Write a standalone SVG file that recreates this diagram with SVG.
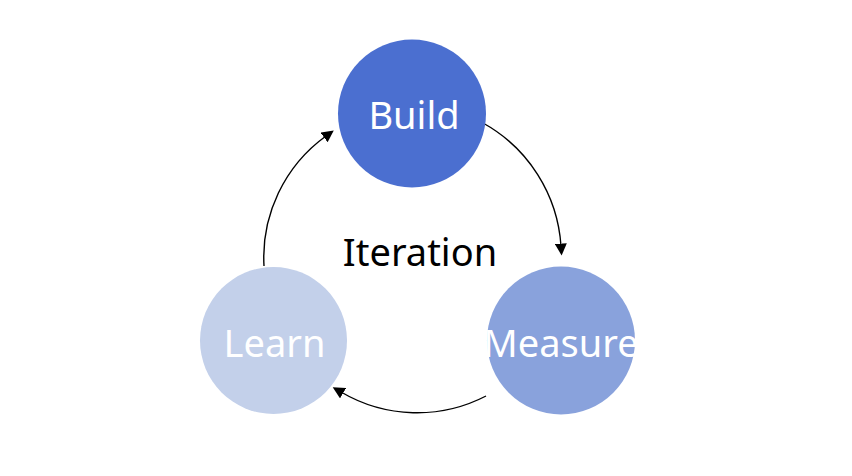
<svg xmlns="http://www.w3.org/2000/svg" width="852" height="476" viewBox="0 0 852 476">
<defs>
<style>
.lbl{font-family:"Noto Sans","Open Sans","Liberation Sans",sans-serif;font-size:38px;text-anchor:middle;fill:#ffffff}
.ctr{font-family:"Noto Sans","Open Sans","Liberation Sans",sans-serif;font-size:38px;text-anchor:middle;fill:#000000}
.conn{fill:none;stroke:#000000;stroke-width:1.4}
</style>
<marker id="arr" viewBox="0 0 10 10" refX="2" refY="5" markerWidth="12" markerHeight="12" markerUnits="userSpaceOnUse" orient="auto">
<path d="M0,0 L10,5 L0,10 Z" fill="#000000"/>
</marker>
</defs>
<rect width="852" height="476" fill="#ffffff"/>
<g id="connectors">
<path class="conn" d="M264,266 A150,150 0 0,1 326,136" marker-end="url(#arr)"/>
<path class="conn" d="M483,123 A152,152 0 0,1 561,246" marker-end="url(#arr)"/>
<path class="conn" d="M486,396 A150,150 0 0,1 341,392" marker-end="url(#arr)"/>
</g>
<g id="build">
<circle cx="412" cy="113.5" r="74" fill="#4b6fd0"/>
<text class="lbl" x="414" y="129">Build</text>
</g>
<g id="measure">
<circle cx="561" cy="340.5" r="74" fill="#89a2dc"/>
<text class="lbl" x="561" y="357">Measure</text>
</g>
<g id="learn">
<circle cx="273.5" cy="340.5" r="73.5" fill="#c3d0ea"/>
<text class="lbl" x="274.5" y="357">Learn</text>
</g>
<g id="iteration">
<text class="ctr" x="420" y="266">Iteration</text>
</g>
</svg>
